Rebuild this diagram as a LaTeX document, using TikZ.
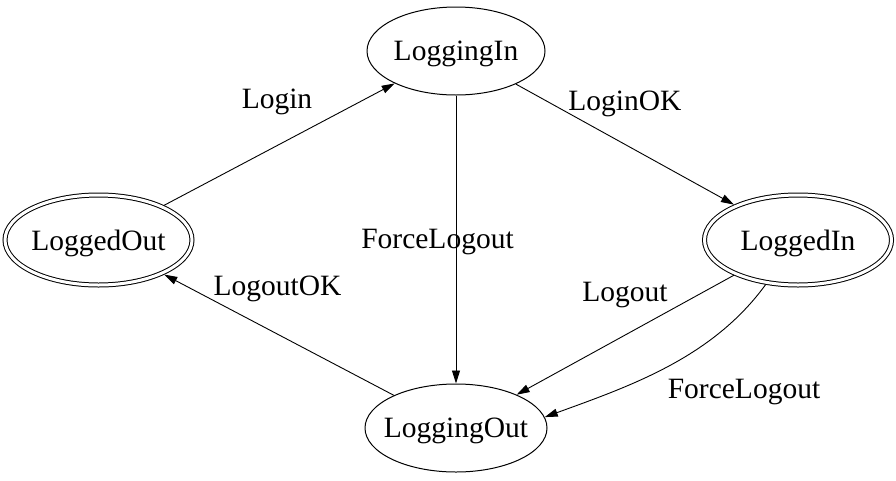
\documentclass[tikz,border=0pt]{standalone}
\usepackage{fontspec}
\setmainfont{Liberation Serif}
\usetikzlibrary{shapes.geometric,arrows.meta}
\begin{document}
\begin{tikzpicture}[x=1pt,y=-1pt,
  every node/.style={font=\fontsize{29.5}{35}\selectfont,text depth=0pt},
  state/.style={ellipse,draw,line width=1pt,inner sep=0pt,minimum height=88pt},
  final/.style={state,double,double distance=3pt,outer sep=2.5pt,minimum width=187pt,minimum height=90pt},
  lbl/.style={inner sep=0pt},
  edge/.style={-{Triangle[length=13pt,width=8pt]},line width=0.9pt}]
\useasboundingbox (0,0) rectangle (896,480);
\node[state,minimum width=178pt] (LoggingIn) at (456,51) {\makebox[0pt]{LoggingIn}};
\node[state,minimum width=182pt] (LoggingOut) at (456,428) {\makebox[0pt]{LoggingOut}};
\node[final] (LoggedOut) at (98.5,240) {\makebox[0pt]{LoggedOut}};
\node[final] (LoggedIn) at (798,240) {\makebox[0pt]{LoggedIn}};
\node[lbl] (l1) at (277,99) {Login};
\node[lbl] (l2) at (625,101) {LoginOK};
\node[lbl] (l3) at (437.5,239) {ForceLogout};
\node[lbl] (l4) at (277.5,286) {LogoutOK};
\node[lbl] (l5) at (625,292) {Logout};
\node[lbl] (l6) at (744,389) {ForceLogout};
\draw[edge] (LoggedOut) -- (LoggingIn);
\draw[edge] (LoggingIn) -- (LoggedIn);
\draw[edge] (LoggingIn) -- (LoggingOut);
\draw[edge] (LoggingOut) -- (LoggedOut);
\draw[edge] (LoggedIn) -- (LoggingOut);
\draw[edge] (LoggedIn.-126) to[out=-126,in=20,looseness=0.9] (LoggingOut.7);
\end{tikzpicture}
\end{document}
